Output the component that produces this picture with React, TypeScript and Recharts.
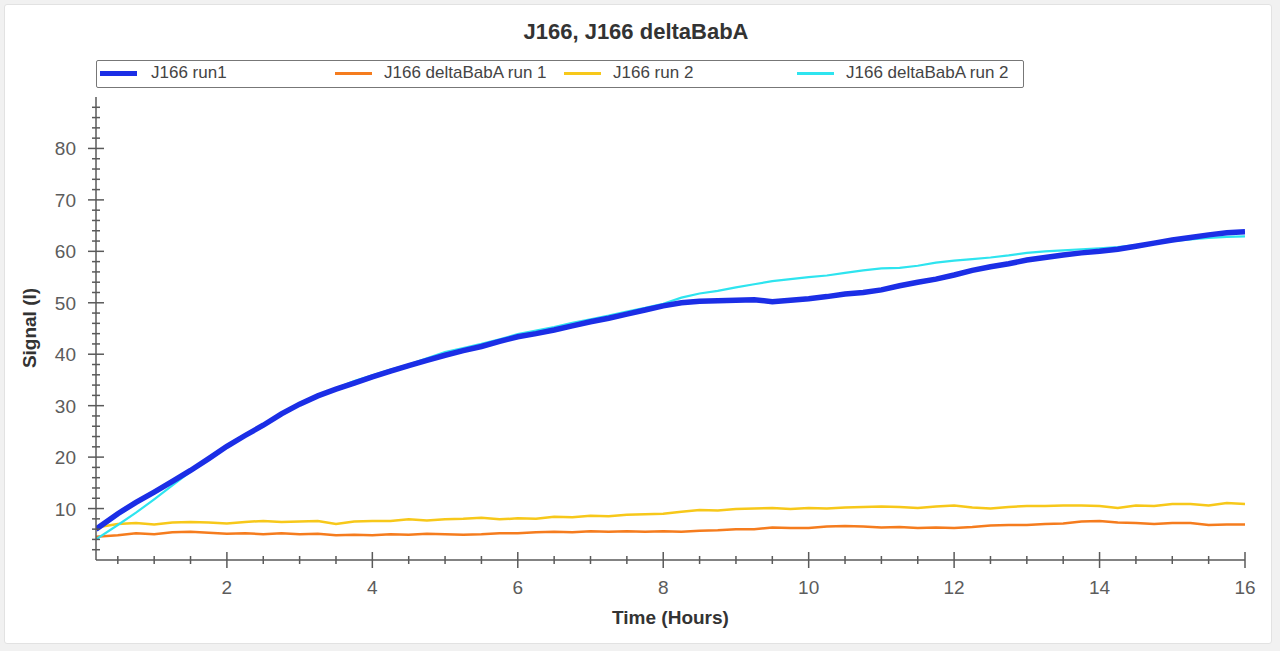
import React from "react";
import { LineChart, Line, XAxis, YAxis } from "recharts";

const times = [
  0.2, 0.5, 0.75, 1, 1.25, 1.5, 1.75, 2, 2.25, 2.5, 2.75, 3, 3.25, 3.5, 3.75, 4,
  4.25, 4.5, 4.75, 5, 5.25, 5.5, 5.75, 6, 6.25, 6.5, 6.75, 7, 7.25, 7.5, 7.75, 8,
  8.25, 8.5, 8.75, 9, 9.25, 9.5, 9.75, 10, 10.25, 10.5, 10.75, 11, 11.25, 11.5,
  11.75, 12, 12.25, 12.5, 12.75, 13, 13.25, 13.5, 13.75, 14, 14.25, 14.5, 14.75,
  15, 15.25, 15.5, 15.75, 16,
];

const run1 = [
  6.0, 9.0, 11.2, 13.2, 15.3, 17.4, 19.7, 22.1, 24.2, 26.2, 28.4, 30.3, 31.9,
  33.2, 34.4, 35.6, 36.7, 37.8, 38.8, 39.8, 40.7, 41.5, 42.5, 43.4, 44.0, 44.7,
  45.5, 46.3, 47.0, 47.8, 48.6, 49.4, 50.0, 50.3, 50.4, 50.5, 50.6, 50.2, 50.5,
  50.8, 51.2, 51.7, 52.0, 52.5, 53.3, 54.0, 54.6, 55.4, 56.3, 57.0, 57.6, 58.3,
  58.8, 59.3, 59.7, 60.0, 60.4, 61.0, 61.6, 62.2, 62.7, 63.2, 63.6, 63.8,
];

const deltaRun1 = [
  4.5, 4.8, 5.2, 5.0, 5.4, 5.5, 5.3, 5.1, 5.2, 5.0, 5.2, 5.0, 5.1, 4.8, 4.9, 4.8,
  5.0, 4.9, 5.1, 5.0, 4.9, 5.0, 5.2, 5.2, 5.4, 5.5, 5.4, 5.6, 5.5, 5.6, 5.5, 5.6,
  5.5, 5.7, 5.8, 6.0, 6.0, 6.3, 6.2, 6.2, 6.5, 6.6, 6.5, 6.3, 6.4, 6.2, 6.3, 6.2,
  6.4, 6.7, 6.8, 6.8, 7.0, 7.1, 7.5, 7.6, 7.3, 7.2, 7.0, 7.2, 7.2, 6.8, 6.9, 6.9,
];

const run2 = [
  6.3, 7.0, 7.2, 6.9, 7.3, 7.4, 7.3, 7.1, 7.4, 7.6, 7.4, 7.5, 7.6, 7.0, 7.5, 7.6,
  7.6, 7.9, 7.7, 7.9, 8.0, 8.2, 7.9, 8.1, 8.0, 8.4, 8.3, 8.6, 8.5, 8.8, 8.9, 9.0,
  9.4, 9.7, 9.6, 9.9, 10.0, 10.1, 9.9, 10.1, 10.0, 10.2, 10.3, 10.4, 10.3, 10.1,
  10.4, 10.6, 10.2, 10.0, 10.3, 10.5, 10.5, 10.6, 10.6, 10.5, 10.1, 10.6, 10.5,
  10.9, 10.9, 10.6, 11.1, 10.9,
];

const deltaRun2 = [
  4.0, 6.8, 9.2, 11.8, 14.5, 17.2, 19.8, 22.3, 24.4, 26.3, 28.4, 30.5, 32.0,
  33.4, 34.8, 35.9, 37.0, 38.0, 39.2, 40.4, 41.2, 42.0, 42.9, 43.9, 44.6, 45.3,
  46.1, 46.8, 47.5, 48.3, 49.0, 49.8, 51.0, 51.8, 52.3, 53.0, 53.6, 54.2, 54.6,
  55.0, 55.3, 55.8, 56.3, 56.7, 56.8, 57.2, 57.8, 58.2, 58.5, 58.8, 59.2, 59.7,
  60.0, 60.2, 60.4, 60.6, 60.8, 61.2, 61.6, 62.0, 62.3, 62.6, 62.8, 62.9,
];

const xTicks = [
  0.5, 1, 1.5, 2, 2.5, 3, 3.5, 4, 4.5, 5, 5.5, 6, 6.5, 7, 7.5, 8, 8.5, 9, 9.5,
  10, 10.5, 11, 11.5, 12, 12.5, 13, 13.5, 14, 14.5, 15, 15.5, 16,
];
const xLabels = [2, 4, 6, 8, 10, 12, 14, 16];

const yTicks = [
  2, 4, 6, 8, 10, 12, 14, 16, 18, 20, 22, 24, 26, 28, 30, 32, 34, 36, 38, 40, 42,
  44, 46, 48, 50, 52, 54, 56, 58, 60, 62, 64, 66, 68, 70, 72, 74, 76, 78, 80, 82,
  84, 86, 88,
];
const yLabels = [10, 20, 30, 40, 50, 60, 70, 80];

const legendItems = [
  { name: "J166 run1", color: "#1b2ee6", width: 5, line: 100, text: 151 },
  { name: "J166 deltaBabA run 1", color: "#f57c1e", width: 3, line: 335, text: 384 },
  { name: "J166 run 2", color: "#f7c81a", width: 3, line: 564, text: 613 },
  { name: "J166 deltaBabA run 2", color: "#2ee4ef", width: 3, line: 797, text: 846 },
];

const data = times.map((t, i) => ({
  t,
  run1: run1[i],
  deltaRun1: deltaRun1[i],
  run2: run2[i],
  deltaRun2: deltaRun2[i],
}));

const AXIS = "#5a5a5a";
const LABEL = "#5c5c5c";
const FONT = "'Liberation Sans', Arial, sans-serif";

const BottomTick = (props: any) => {
  const { x, y, payload } = props;
  const major = xLabels.includes(payload.value);
  return (
    <g>
      <line x1={x} x2={x} y1={y - (major ? 8 : 4)} y2={y + (major ? 8 : 4)} stroke={AXIS} strokeWidth={1.5} />
      {major && (
        <text x={x} y={y + 34} textAnchor="middle" fill={LABEL} fontSize={19} fontFamily={FONT}>
          {payload.value}
        </text>
      )}
    </g>
  );
};

const TopTick = (props: any) => {
  const { x, y, payload } = props;
  const major = xLabels.includes(payload.value);
  return <line x1={x} x2={x} y1={y} y2={y + (major ? 9 : 5)} stroke={AXIS} strokeWidth={1.5} />;
};

const LeftTick = (props: any) => {
  const { x, y, payload } = props;
  const major = yLabels.includes(payload.value);
  return (
    <g>
      <line x1={x - (major ? 8 : 4)} x2={x + (major ? 8 : 4)} y1={y} y2={y} stroke={AXIS} strokeWidth={1.5} />
      {major && (
        <text x={x - 20} y={y + 7} textAnchor="end" fill={LABEL} fontSize={19} fontFamily={FONT}>
          {payload.value}
        </text>
      )}
    </g>
  );
};

const RightTick = (props: any) => {
  const { x, y, payload } = props;
  const major = yLabels.includes(payload.value);
  return <line x1={x - (major ? 8 : 4)} x2={x} y1={y} y2={y} stroke={AXIS} strokeWidth={1.2} />;
};

export default function App() {
  return (
    <div
      style={{
        position: "absolute",
        left: 0,
        top: 0,
        width: 1280,
        height: 651,
        background: "#f1f1f1",
        fontFamily: FONT,
        overflow: "hidden",
      }}
    >
      <div
        style={{
          position: "absolute",
          left: 4,
          top: 4,
          width: 1266,
          height: 638,
          background: "#fff",
          border: "1px solid #e2e2e2",
          borderRadius: 3,
        }}
      />
      <div
        style={{
          position: "absolute",
          left: 0,
          width: 1272,
          top: 19,
          textAlign: "center",
          fontSize: 22,
          fontWeight: "bold",
          color: "#333",
        }}
      >
        J166, J166 deltaBabA
      </div>
      <div
        style={{
          position: "absolute",
          left: 96,
          top: 60,
          width: 926,
          height: 26,
          border: "1.5px solid #777",
          borderRadius: 2,
          background: "#fff",
        }}
      />
      {legendItems.map((it) => (
        <React.Fragment key={it.name}>
          <div
            style={{
              position: "absolute",
              left: it.line,
              top: 73 - it.width / 2,
              width: 37,
              height: it.width,
              background: it.color,
            }}
          />
          <div
            style={{
              position: "absolute",
              left: it.text,
              top: 63,
              fontSize: 17,
              color: "#444",
              whiteSpace: "nowrap",
            }}
          >
            {it.name}
          </div>
        </React.Fragment>
      ))}
      <div style={{ position: "absolute", left: 0, top: 0 }}>
        <LineChart
          width={1280}
          height={651}
          data={data}
          margin={{ top: 97, right: 35, bottom: 41, left: 16 }}
        >
          <XAxis
            dataKey="t"
            type="number"
            domain={[0.2, 16]}
            allowDataOverflow
            ticks={xTicks}
            interval={0}
            tickSize={0}
            tickMargin={0}
            height={50}
            tick={<BottomTick />}
            stroke={AXIS}
            strokeWidth={1.5}
          />
          <XAxis
            xAxisId="top"
            orientation="top"
            dataKey="t"
            type="number"
            domain={[0.2, 16]}
            allowDataOverflow
            ticks={xTicks}
            interval={0}
            tickSize={0}
            tickMargin={0}
            height={0}
            tick={<TopTick />}
            stroke={AXIS}
            strokeWidth={1.5}
          />
          <YAxis
            type="number"
            domain={[0, 90]}
            allowDataOverflow
            ticks={yTicks}
            interval={0}
            tickSize={0}
            tickMargin={0}
            width={80}
            tick={<LeftTick />}
            stroke={AXIS}
            strokeWidth={1.5}
          />
          <YAxis
            yAxisId="right"
            orientation="right"
            type="number"
            domain={[0, 90]}
            allowDataOverflow
            ticks={yTicks}
            interval={0}
            tickSize={0}
            tickMargin={0}
            width={0}
            tick={<RightTick />}
            stroke={AXIS}
            strokeWidth={1.5}
          />
          <Line
            xAxisId="top"
            yAxisId="right"
            dataKey="run1"
            stroke="none"
            dot={false}
            isAnimationActive={false}
            legendType="none"
          />
          <Line type="linear" dataKey="deltaRun1" stroke="#f57c1e" strokeWidth={2.5} dot={false} isAnimationActive={false} />
          <Line type="linear" dataKey="run2" stroke="#f7c81a" strokeWidth={2.5} dot={false} isAnimationActive={false} />
          <Line type="linear" dataKey="deltaRun2" stroke="#2ee4ef" strokeWidth={2.2} dot={false} isAnimationActive={false} />
          <Line type="linear" dataKey="run1" stroke="#1b2ee6" strokeWidth={5.5} dot={false} isAnimationActive={false} />
        </LineChart>
      </div>
      <div
        style={{
          position: "absolute",
          left: 96,
          width: 1149,
          top: 607,
          textAlign: "center",
          fontSize: 19,
          fontWeight: "bold",
          color: "#333",
        }}
      >
        Time (Hours)
      </div>
      <div
        style={{
          position: "absolute",
          left: 30,
          top: 328,
          transform: "translate(-50%, -50%) rotate(-90deg)",
          fontSize: 19,
          fontWeight: "bold",
          color: "#333",
          whiteSpace: "nowrap",
        }}
      >
        Signal (I)
      </div>
    </div>
  );
}
